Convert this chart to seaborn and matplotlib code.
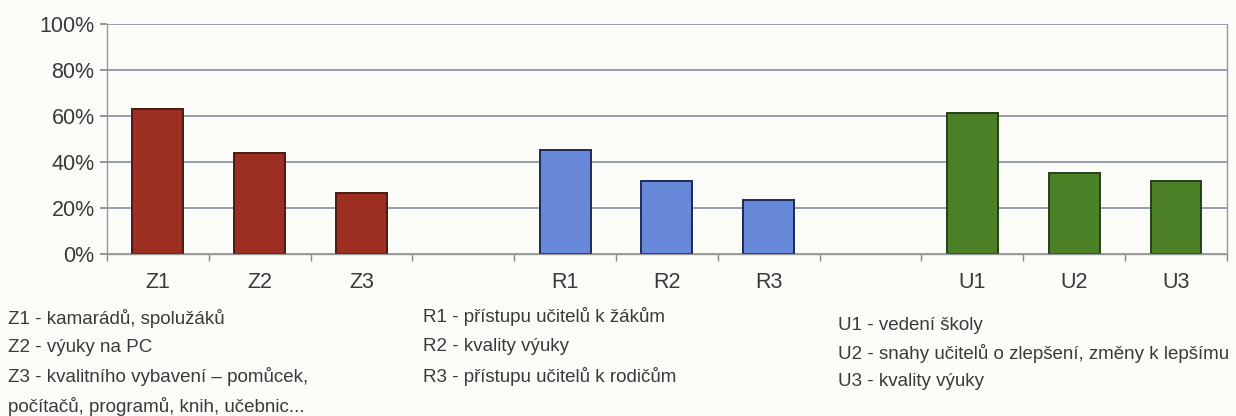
import pandas as pd
import matplotlib.pyplot as plt
import seaborn as sns
from matplotlib.ticker import PercentFormatter

sns.set_theme(style="white")
plt.rcParams['font.family'] = ['Liberation Sans', 'DejaVu Sans']

# data
categories = ['Z1', 'Z2', 'Z3', 'R1', 'R2', 'R3', 'U1', 'U2', 'U3']
groups = ['Z', 'Z', 'Z', 'R', 'R', 'R', 'U', 'U', 'U']
values = [63.2, 43.9, 26.8, 45.2, 32.0, 23.7, 61.4, 35.1, 31.6]
slot_order = ['Z1', 'Z2', 'Z3', 'gap1', 'R1', 'R2', 'R3', 'gap2', 'U1', 'U2', 'U3']

notes_z = ['Z1 - kamarádů, spolužáků', 'Z2 - výuky na PC',
           'Z3 - kvalitního vybavení – pomůcek,', 'počítačů, programů, knih, učebnic...']
notes_r = ['R1 - přístupu učitelů k žákům', 'R2 - kvality výuky',
           'R3 - přístupu učitelů k rodičům']
notes_u = ['U1 - vedení školy', 'U2 - snahy učitelů o zlepšení, změny k lepšímu',
           'U3 - kvality výuky']

df = pd.DataFrame({'kat': categories, 'skupina': groups, 'hodnota': values})
fill = {'Z': '#9c2f21', 'R': '#6787d8', 'U': '#4b8026'}
edge = {'Z': '#4a1a12', 'R': '#1e2a55', 'U': '#26401a'}

bg = '#fbfbf8'
fig = plt.figure(figsize=(12.36, 4.16), dpi=100, facecolor=bg)
ax = fig.add_axes([0.0866, 0.389, 0.906, 0.553], facecolor=bg)

sns.barplot(data=df, x='kat', y='hodnota', hue='skupina', order=slot_order,
            palette=fill, saturation=1, dodge=False, width=0.5, legend=False, ax=ax)
for patch, g in zip(ax.patches, groups):
    patch.set_edgecolor(edge[g])
    patch.set_linewidth(1.4)

ax.set_ylim(0, 100)
ax.set_xlim(-0.5, len(slot_order) - 0.5)
ax.set_yticks(range(0, 101, 20))
ax.yaxis.set_major_formatter(PercentFormatter(decimals=0))
ax.yaxis.grid(True, color='#7d8497', linewidth=1.1)
ax.set_axisbelow(True)
ax.set_xlabel('')
ax.set_ylabel('')

ax.set_xticks(range(len(slot_order)))
ax.set_xticklabels([s if not s.startswith('gap') else '' for s in slot_order])
ax.set_xticks([i + 0.5 for i in range(-1, len(slot_order))], minor=True)
ax.tick_params(axis='x', which='major', length=0, pad=13, labelsize=15.5, labelcolor='#3a3a3a')
ax.tick_params(axis='x', which='minor', length=5, direction='out', color='#888888', bottom=True)
ax.tick_params(axis='y', length=5, direction='out', color='#888888', left=True,
               labelsize=15.5, labelcolor='#3a3a3a', pad=4)

for side in ['left', 'right', 'bottom']:
    ax.spines[side].set_color('#9a9a9a')
    ax.spines[side].set_linewidth(1.0)
ax.spines['top'].set_visible(False)

note_font = ['Liberation Sans Narrow', 'Liberation Sans', 'DejaVu Sans']

def put_notes(x_px, y_px, lines, step=29.5):
    for i, t in enumerate(lines):
        fig.text(x_px / 1236, 1 - (y_px + i * step) / 416, t, family=note_font,
                 fontsize=13.5, color='#3a3a3a', va='center', ha='left')

put_notes(8, 318, notes_z)
put_notes(423, 317, notes_r)
put_notes(838, 325, notes_u, step=28.5)

plt.savefig('out.png', dpi=100, facecolor=bg)
plt.close()
